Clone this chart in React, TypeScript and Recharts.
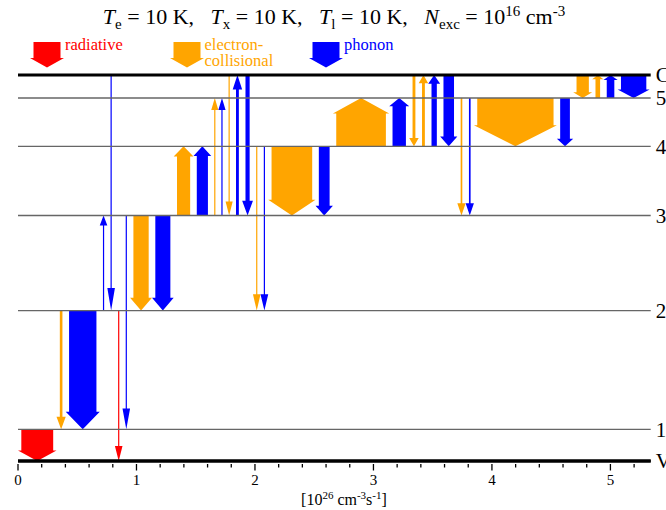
import React from 'react';
import { ComposedChart, XAxis, YAxis, ReferenceLine, ReferenceArea } from 'recharts';

const SERIF = 'Liberation Serif, Times New Roman, serif';

// energy levels, bottom to top (arbitrary energy units)
const levelNames = ['V', '1', '2', '3', '4', '5', 'C'];
const levelEnergies = [0, 31.7, 150.4, 245.5, 314.7, 363, 386];

// transitions, left to right along the rate axis
const kinds = ['rad', 'col', 'ph', 'ph', 'ph', 'rad', 'ph', 'col', 'ph', 'col', 'ph', 'col', 'ph', 'col', 'ph', 'ph', 'col', 'ph', 'col', 'ph', 'col', 'ph', 'col', 'col', 'ph', 'ph', 'col', 'ph', 'col', 'ph', 'col', 'col', 'ph', 'ph'];
const fromLevels = ['1', '2', '2', '2', 'C', '2', '3', '3', '3', '3', '3', '3', '3', 'C', '3', 'C', '4', '4', '4', '4', '4', '4', 'C', '4', '4', 'C', '5', '5', '5', '5', 'C', '5', '5', 'C'];
const toLevels = ['V', '1', '1', '3', '2', 'V', '1', '2', '2', '4', '4', '5', '5', '3', 'C', '3', '2', '2', '3', '3', '5', '5', '4', 'C', 'C', '4', '3', '3', '4', '4', '5', 'C', 'C', '5'];
const rates = [0.269, 0.022, 0.231, 0.008, 0.008, 0.008, 0.008, 0.129, 0.127, 0.111, 0.094, 0.004, 0.005, 0.004, 0.024, 0.035, 0.008, 0.009, 0.343, 0.091, 0.419, 0.113, 0.024, 0.024, 0.045, 0.089, 0.014, 0.014, 0.644, 0.082, 0.104, 0.039, 0.064, 0.214];

const xTicks = [0, 0.2, 0.4, 0.6, 0.8, 1, 1.2, 1.4, 1.6, 1.8, 2, 2.2, 2.4, 2.6, 2.8, 3, 3.2, 3.4, 3.6, 3.8, 4, 4.2, 4.4, 4.6, 4.8, 5, 5.2];

const legendKinds = ['rad', 'col', 'ph'];
const legendLabels = ['radiative', 'electron-\ncollisional', 'phonon'];

const colors: Record<string, string> = { rad: '#ff0000', col: '#ffa500', ph: '#0000ff' };

// room each arrow head takes beyond its rate, in axis units
const HEAD_PAD = 0.056;

const energyOf = (name: string) => levelEnergies[levelNames.indexOf(name)];

let acc = 0;
const arrows = rates.map((r, i) => {
  const x1 = acc;
  acc += r + HEAD_PAD;
  return { kind: kinds[i], from: fromLevels[i], to: toLevels[i], rate: r, x1, x2: acc };
});

function arrowPoints(cx: number, yTail: number, yTip: number, bodyW: number, headW: number, headLen: number) {
  const dir = yTip > yTail ? 1 : -1;
  const len = Math.abs(yTip - yTail);
  const hl = Math.min(headLen, len);
  const yH = yTip - dir * hl;
  const pts = [
    [cx - bodyW / 2, yTail], [cx + bodyW / 2, yTail], [cx + bodyW / 2, yH], [cx + headW / 2, yH],
    [cx, yTip], [cx - headW / 2, yH], [cx - bodyW / 2, yH],
  ];
  return pts.map((p) => p.join(',')).join(' ');
}

const makeShape = (a: typeof arrows[number]) => (p: any) => {
  const { x, y, width, height } = p;
  const up = energyOf(a.to) > energyOf(a.from);
  const cx = x + width / 2;
  const headW = width;
  const bodyW = Math.max(width * a.rate / (a.rate + HEAD_PAD), 1.2);
  const headLen = 0.09 * height + 0.2 * headW;
  const yTail = up ? y + height : y;
  const yTip = up ? y : y + height;
  return <polygon points={arrowPoints(cx, yTail, yTip, bodyW, headW, headLen)} fill={colors[a.kind]} />;
};

const XTick = (props: any) => {
  const { x, y, payload } = props;
  const v = payload.value;
  const major = Math.abs(v - Math.round(v)) < 1e-6;
  return (
    <g>
      <line x1={x} x2={x} y1={y + 3} y2={y + (major ? 9.5 : 6.5)} stroke="#000" strokeWidth={1.3} />
      {major && (
        <text x={x} y={y + 24.3} textAnchor="middle" fontSize={15} fontFamily={SERIF} fill="#000">
          {Math.round(v)}
        </text>
      )}
    </g>
  );
};

const UnitLabel = (props: any) => {
  const vb = props.viewBox || { x: 0, y: 0, width: 0 };
  return (
    <text x={vb.x + vb.width / 2 + 9.6} y={vb.y + 44} textAnchor="middle" fontSize={16} fontFamily={SERIF} fill="#000">
      <tspan>[10</tspan>
      <tspan dy={-6} fontSize={11}>26</tspan>
      <tspan dy={6}> cm</tspan>
      <tspan dy={-6} fontSize={11}>-3</tspan>
      <tspan dy={6}>s</tspan>
      <tspan dy={-6} fontSize={11}>-1</tspan>
      <tspan dy={6}>]</tspan>
    </text>
  );
};

const subStyle = { fontSize: 15, lineHeight: 0 };

const Title = () => (
  <div style={{ position: 'absolute', left: 0, top: 4, width: 668, textAlign: 'center', fontFamily: SERIF, fontSize: 22, lineHeight: '26px', color: '#000', whiteSpace: 'pre' }}>
    <i>T</i><sub style={subStyle}>e</sub> = 10 K,{'   '}
    <i>T</i><sub style={subStyle}>x</sub> = 10 K,{'   '}
    <i>T</i><sub style={subStyle}>l</sub> = 10 K,{'   '}
    <i>N</i><sub style={subStyle}>exc</sub> = 10<sup style={subStyle}>16</sup> cm<sup style={subStyle}>-3</sup>
  </div>
);

const LegendRow = () => (
  <div style={{ position: 'absolute', left: 30, top: 37, display: 'flex', fontFamily: SERIF, fontSize: 16.5 }}>
    {legendKinds.map((k, i) => (
      <div key={k} style={{ width: 139.5, display: 'flex', alignItems: 'flex-start' }}>
        <svg width={34} height={30} style={{ marginTop: 5 }}>
          <polygon points={arrowPoints(17, 0, 25.5, 27, 34, 9.6)} fill={colors[k]} />
        </svg>
        <div style={{ color: colors[k], whiteSpace: 'pre', lineHeight: '15.5px', marginLeft: 1 }}>{legendLabels[i]}</div>
      </div>
    ))}
  </div>
);

export default function App() {
  return (
    <div style={{ position: 'absolute', left: 0, top: 0, width: 666, height: 510, background: '#fff', overflow: 'hidden' }}>
      <ComposedChart width={666} height={510} margin={{ top: 75, right: 15.3, bottom: 0, left: 18 }}>
        <XAxis
          type="number"
          dataKey="x"
          domain={[0, 5.34]}
          ticks={xTicks}
          allowDataOverflow
          interval={0}
          height={49}
          axisLine={{ stroke: '#000', strokeWidth: 3 }}
          tickLine={false}
          tickSize={0}
          tickMargin={0}
          tick={<XTick />}
          label={{ content: <UnitLabel /> }}
        />
        <YAxis type="number" domain={[0, 386]} hide allowDataOverflow />
        {levelNames.map((name, i) => {
          const edge = name === 'C' || name === 'V';
          return (
            <ReferenceLine
              key={name}
              y={levelEnergies[i]}
              stroke={edge ? '#000' : '#666'}
              strokeWidth={edge ? 3 : 1.3}
              ifOverflow="visible"
              label={{ value: name, position: 'right', offset: 5, fill: '#000', fontSize: 21, fontFamily: SERIF }}
            />
          );
        })}
        {arrows.map((a, i) => (
          <ReferenceArea
            key={i}
            x1={a.x1}
            x2={a.x2}
            y1={energyOf(a.from)}
            y2={energyOf(a.to)}
            ifOverflow="visible"
            shape={makeShape(a)}
          />
        ))}
      </ComposedChart>
      <Title />
      <LegendRow />
    </div>
  );
}
